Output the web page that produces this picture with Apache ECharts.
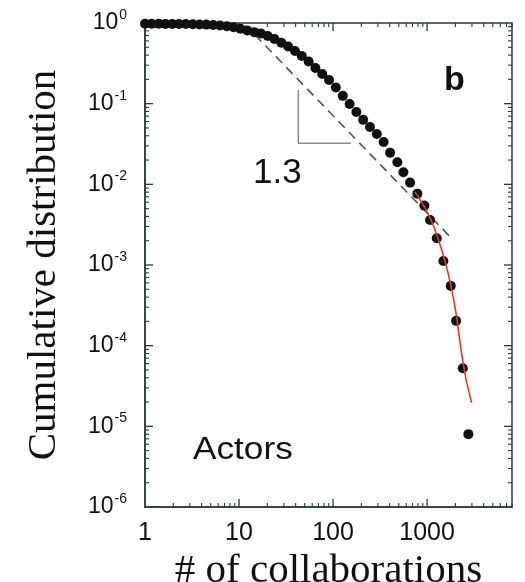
<!DOCTYPE html>
<html><head><meta charset="utf-8">
<script src="https://cdn.jsdelivr.net/npm/echarts@6/dist/echarts.min.js"></script>
<style>html,body{margin:0;padding:0;background:#fff}#c{width:525px;height:582px}</style>
</head><body><div id="c"></div>
<script>
// number of collaborations (log-binned) and cumulative distribution
const collabX = [1.00,1.18,1.40,1.65,1.95,2.30,2.72,3.22,3.80,4.49,5.31,6.27,7.41,8.76,10.35,12.2,14.5,17.1,20.2,23.8,28.2,33.3,39.4,46.5,55.0,64.9,76.7,90.7,107,127,150,177,209,247,292,345,404,483,560,659,788,936,1076,1268,1490,1786,2036,2398,2750];
const cumDist = [0.98,0.98,0.98,0.975,0.975,0.97,0.97,0.965,0.96,0.955,0.945,0.93,0.91,0.885,0.85,0.81,0.77,0.74,0.69,0.633,0.57,0.51,0.45,0.39,0.334,0.277,0.233,0.197,0.159,0.125,0.099,0.079,0.063,0.0515,0.0421,0.0335,0.0247,0.0188,0.0141,0.0105,0.00767,0.00545,0.00362,0.00215,0.00112,0.000551,0.000203,0.0000526,0.000008];
// red cutoff fit
const fitX = [745,885,1077,1277,1517,1758,2036,2301,2602,2973];
const fitY = [0.00805,0.00589,0.00383,0.0023,0.00122,0.000617,0.000248,0.0000887,0.0000377,0.0000196];
// green dashed power law (slope 1.3)
const powX = [14.8,1891];
const powY = [0.71,0.00205];
// slope triangle
const triX = [42.7,42.7,155];
const triY = [0.148,0.0323,0.0323];
// ticks
const xTickValues = [1,10,100,1000];
const xMinorTicks = [2,3,4,5,6,7,8,9,20,30,40,50,60,70,80,90,200,300,400,500,600,700,800,900,2000,3000,4000,5000,6000,7000,8000];
const yTickValues = [1e-6,1e-5,1e-4,1e-3,1e-2,1e-1,1];
const yMinorTicks = [2e-6,3e-6,4e-6,5e-6,6e-6,7e-6,8e-6,9e-6,2e-5,3e-5,4e-5,5e-5,6e-5,7e-5,8e-5,9e-5,2e-4,3e-4,4e-4,5e-4,6e-4,7e-4,8e-4,9e-4,2e-3,3e-3,4e-3,5e-3,6e-3,7e-3,8e-3,9e-3,2e-2,3e-2,4e-2,5e-2,6e-2,7e-2,8e-2,9e-2,2e-1,3e-1,4e-1,5e-1,6e-1,7e-1,8e-1,9e-1];

const zip = (a,b) => a.map((v,i)=>[v,b[i]]);
const frame = '#2b3a3c';
const sans = 'Liberation Sans';
const serif = 'Liberation Serif';
const X_MIN = 1, X_MAX = 8000, Y_MIN = 1e-6, Y_MAX = 1;

// tick marks on all four sides, placed through the axes' scales
const tickData = [].concat(
  xTickValues.filter(v => v > X_MIN).map(v => [v, Y_MIN, 0]),
  xMinorTicks.map(v => [v, Y_MIN, 1]),
  yTickValues.filter(v => v > Y_MIN && v < Y_MAX).map(v => [X_MIN, v, 2]),
  yMinorTicks.map(v => [X_MIN, v, 3])
);
function renderTick(params, api) {
  const k = api.value(2);
  const major = (k === 0 || k === 2);
  const L = major ? 8 : 4;
  const style = {stroke: frame, lineWidth: major ? 1.3 : 1.1};
  if (k < 2) {
    const v = api.value(0);
    const b = api.coord([v, Y_MIN]), t = api.coord([v, Y_MAX]);
    return {type:'group', children:[
      {type:'line', shape:{x1:b[0], y1:b[1], x2:b[0], y2:b[1]-L}, style:style},
      {type:'line', shape:{x1:t[0], y1:t[1], x2:t[0], y2:t[1]+L}, style:style}
    ]};
  }
  const v = api.value(1);
  const l = api.coord([X_MIN, v]), r = api.coord([X_MAX, v]);
  return {type:'group', children:[
    {type:'line', shape:{x1:l[0], y1:l[1], x2:l[0]+L, y2:l[1]}, style:style},
    {type:'line', shape:{x1:r[0], y1:r[1], x2:r[0]-L, y2:r[1]}, style:style}
  ]};
}

const chart = echarts.init(document.getElementById('c'), null, {renderer:'canvas'});
chart.setOption({
  animation:false,
  backgroundColor:'#fff',
  grid:{left:145, right:13, top:23, bottom:75, outerBoundsMode:'none', show:true, borderColor:frame, borderWidth:1.5, backgroundColor:'transparent'},
  xAxis:{
    type:'log', min:X_MIN, max:X_MAX, position:'bottom',
    axisLine:{show:true, onZero:false, lineStyle:{color:frame, width:1.5}},
    axisTick:{show:false},
    axisLabel:{show:true, showMaxLabel:false, formatter:v=>String(Math.round(v)), fontFamily:sans, fontSize:25, color:'#111', margin:14},
    splitLine:{show:false},
    name:'# of collaborations', nameLocation:'middle', nameGap:40,
    nameTextStyle:{fontFamily:serif, fontSize:41, color:'#111'}
  },
  yAxis:{
    type:'log', min:Y_MIN, max:Y_MAX, position:'left', interval:1,
    axisLine:{show:true, onZero:false, lineStyle:{color:frame, width:1.5}},
    axisTick:{show:false},
    axisLabel:{show:true, margin:18,
      formatter:v=>{const e=Math.round(Math.log10(v)); return '{b|10}{e|'+(e===0?'0':'-'+(-e))+'}';},
      rich:{b:{fontFamily:sans, fontSize:23, color:'#111', lineHeight:30, verticalAlign:'middle'},
            e:{fontFamily:sans, fontSize:14, color:'#111', lineHeight:14, verticalAlign:'top', padding:[0,0,0,1]}}},
    splitLine:{show:false},
    name:'Cumulative distribution', nameLocation:'middle', nameRotate:90, nameGap:80,
    nameTextStyle:{fontFamily:serif, fontSize:41, color:'#111'}
  },
  series:[
    {type:'custom', data:tickData, renderItem:renderTick, encode:{x:0, y:1}, silent:true, z:1, clip:false},
    {type:'line', data:zip(triX,triY), showSymbol:false, symbol:'none', lineStyle:{color:'#8c8c8c', width:1.5}, z:2, silent:true},
    {type:'line', data:zip(powX,powY), showSymbol:false, symbol:'none', lineStyle:{color:'#2f6b3a', width:1.6, type:[9,6]}, z:2, silent:true},
    {type:'scatter', data:zip(collabX,cumDist), symbol:'circle', symbolSize:10, itemStyle:{color:'#111', opacity:1}, z:3},
    {type:'line', data:zip(fitX,fitY), smooth:0.3, showSymbol:false, symbol:'none', lineStyle:{color:'#e8352b', width:1.6}, z:4, silent:true}
  ],
  graphic:[
    {type:'text', left:253, top:156, style:{text:'1.3', fontFamily:sans, fontSize:35, fill:'#111'}},
    {type:'text', left:444, top:64, style:{text:'b', fontFamily:sans, fontWeight:'bold', fontSize:34, fill:'#111'}},
    {type:'text', x:193, y:434, scaleX:1.1, style:{text:'Actors', fontFamily:sans, fontSize:32, fill:'#111'}}
  ]
});
</script></body></html>
